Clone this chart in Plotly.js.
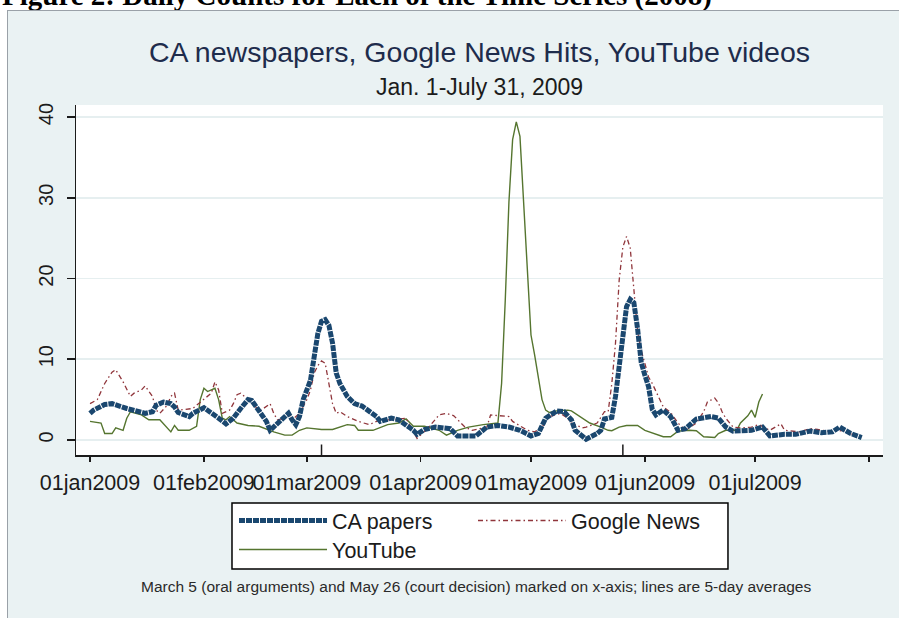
<!DOCTYPE html>
<html>
<head>
<meta charset="utf-8">
<script src="https://cdn.plot.ly/plotly-3.0.1.min.js"></script>
<style>
  html, body { margin: 0; padding: 0; background: #ffffff; width: 899px; height: 618px; overflow: hidden; position: relative; }
  #caption { position: absolute; left: 2px; top: -19px; font: bold 29px "Liberation Serif", "Times New Roman", serif; line-height: 29px; color: #000; white-space: nowrap; }
  #frame { position: absolute; left: 7px; top: 10px; width: 893px; height: 610px; border-left: 2px solid #9aa1a8; border-top: 2px solid #9aa1a8; background: #eaf2f3; }
  #chart { position: absolute; left: 8px; top: 11px; width: 891px; height: 607px; }
</style>
</head>
<body>
<div id="caption">Figure 2: Daily Counts for Each of the Time Series (2008)</div>
<div id="frame"></div>
<div id="chart"></div>
<script>
// ---- data (day offsets from 01jan2009, 5-day averages) ----
var caDay = [0,1,4,6,10,13,15,17,18,20,22,23,24,27,28,31,33,35,37,39,41,43,44,46,48,49,51,53,54,55,56,57,58,60,61,62,63,64,65,66,67,68,70,72,74,75,78,79,82,84,86,88,89,91,94,98,100,103,105,108,111,114,117,120,122,124,127,129,131,132,135,138,139,140,142,143,144,145,146,147,148,149,150,151,152,153,154,156,158,160,162,165,169,171,173,175,180,183,185,189,192,196,199,202,204,207,210];
var caVal = [3.3,3.7,4.4,4.5,3.9,3.5,3.3,3.5,4.3,4.7,4.5,4.1,3.4,2.9,3.3,4.0,3.4,2.7,2.0,2.7,3.9,5.0,4.9,3.7,2.3,1.2,2.0,2.7,3.3,2.5,1.9,2.9,5.0,7.4,10.3,13.2,14.7,14.9,14.2,12.0,8.3,7.0,5.4,4.5,4.2,3.9,2.9,2.3,2.7,2.5,1.9,1.2,0.7,1.3,1.6,1.4,0.5,0.5,0.5,1.6,1.8,1.6,1.2,0.5,0.8,2.7,3.6,3.5,2.5,1.2,0.1,0.8,1.2,2.6,2.8,5.4,9.5,12.8,16.5,17.4,17.0,13.8,9.6,8.0,6.6,3.8,3.1,3.7,2.9,1.2,1.4,2.6,2.9,2.7,1.6,1.1,1.2,1.6,0.5,0.7,0.7,1.1,0.9,1.0,1.6,0.8,0.3];

var gnDay = [0,2,4,6,7,8,9,11,12,14,15,17,18,19,21,22,23,24,28,29,32,33,34,35,36,38,39,40,41,43,44,46,49,50,51,53,54,55,57,59,60,61,62,63,64,65,66,67,68,70,73,76,79,82,86,89,92,95,97,99,102,104,108,109,111,114,115,119,121,123,125,128,130,131,134,135,138,140,141,142,143,144,145,146,147,148,149,150,152,153,156,158,160,162,165,167,168,170,171,172,173,175,177,180,182,185,188,189,193,196,198,202,205,208,210];
var gnVal = [4.5,5.0,7.0,8.4,8.7,8.0,7.2,5.4,5.8,6.2,6.7,5.4,3.7,3.3,4.3,5.4,5.8,3.7,3.9,4.3,5.4,5.8,7.2,6.2,3.3,3.7,4.5,5.6,5.8,5.0,4.8,3.5,4.5,3.3,2.5,2.7,3.3,2.5,3.3,5.0,6.2,8.3,9.2,9.8,9.5,7.0,4.5,3.3,3.5,2.9,2.3,1.9,2.5,2.5,2.7,0.2,1.5,3.1,3.3,3.0,1.6,1.2,1.6,3.1,3.0,2.9,2.3,1.2,1.0,1.6,2.9,3.3,2.7,2.1,1.5,1.6,2.1,3.5,3.5,7.0,12.0,19.8,23.9,25.2,23.8,18.6,13.5,11.1,7.8,7.0,4.1,3.4,2.1,1.2,2.1,3.5,4.7,5.2,4.6,3.5,2.7,1.6,1.5,1.6,1.9,1.2,2.0,1.2,1.0,1.4,1.3,1.0,1.2,0.6,0.3];

var ytDay = [0,3,4,6,7,9,10,11,14,16,19,22,23,24,27,29,30,31,32,34,35,36,37,38,40,43,46,50,53,55,57,59,63,66,70,72,73,77,81,84,86,88,91,95,97,100,103,107,111,112,113,114,115,116,117,118,119,120,121,122,123,124,125,127,130,131,134,136,139,141,142,144,146,149,151,153,156,158,160,163,165,167,170,171,173,176,177,179,180,181,182,183];
var ytVal = [2.3,2.1,0.8,0.8,1.5,1.2,2.7,3.5,3.1,2.5,2.5,1.0,1.8,1.2,1.2,1.7,5.0,6.4,6.0,6.4,5.0,2.7,2.5,2.9,2.1,1.8,1.7,1.0,0.6,0.6,1.2,1.5,1.3,1.3,1.9,1.8,1.2,1.2,1.9,2.1,2.6,1.7,1.7,1.2,0.6,1.2,1.6,1.9,2.1,7.0,17.3,29.5,37.2,39.4,37.6,29.5,20.2,13.0,10.5,7.5,5.0,3.7,3.4,3.6,3.7,3.6,2.7,2.1,1.6,1.2,1.15,1.6,1.8,1.8,1.2,0.9,0.4,0.4,1.1,1.2,1.15,0.4,0.3,0.8,1.2,1.2,2.1,3.0,3.7,2.8,4.7,5.7];

var monthTicks = ['2009-01-01','2009-02-01','2009-03-01','2009-04-01','2009-05-01','2009-06-01','2009-07-01','2009-08-01'];
var monthLabels = ['01jan2009','01feb2009','01mar2009','01apr2009','01may2009','01jun2009','01jul2009',''];
var markedDates = ['2009-03-05','2009-05-26'];
var seriesNames = ['CA papers','Google News','YouTube'];

function toDate(d) {
  return new Date(Date.UTC(2009, 0, 1 + d)).toISOString().slice(0, 10);
}

var FONT = '"Liberation Sans", Arial, sans-serif';
var DARK = '#1b1b1b';

var caTrace = { x: caDay.map(toDate), y: caVal, name: seriesNames[0], type: 'scatter', mode: 'lines',
  legend: 'legend', legendrank: 1,
  line: { color: '#1a476f', width: 5, dash: '6px,1px' } };
var gnTrace = { x: gnDay.map(toDate), y: gnVal, name: seriesNames[1], type: 'scatter', mode: 'lines',
  legend: 'legend', legendrank: 2,
  line: { color: '#90353b', width: 1.3, dash: '5px,3px,1.5px,3px' } };
var ytTrace = { x: ytDay.map(toDate), y: ytVal, name: seriesNames[2], type: 'scatter', mode: 'lines',
  legend: 'legend2', legendrank: 3,
  line: { color: '#55752f', width: 1.4 } };

// draw CA papers on top
var traces = [ytTrace, gnTrace, caTrace];

var shapes = markedDates.map(function (d) {
  return { type: 'line', xref: 'x', yref: 'paper', x0: d, x1: d, y0: 0, y1: 0.03,
           line: { color: DARK, width: 1.5 } };
});
// legend box (frames both legend rows)
shapes.push({ type: 'rect', xref: 'paper', yref: 'paper', x0: 0.1933, x1: 0.8079, y0: -0.3257, y1: -0.1371,
  fillcolor: '#ffffff', line: { color: '#000000', width: 1.5 }, layer: 'below' });

var legendCommon = {
  orientation: 'h', xanchor: 'left', xref: 'paper', yanchor: 'top', yref: 'paper',
  bgcolor: 'rgba(0,0,0,0)', borderwidth: 0,
  font: { family: FONT, size: 21.5, color: DARK },
  itemwidth: 88, entrywidth: 136, entrywidthmode: 'pixels', traceorder: 'normal'
};

var layout = {
  width: 891, height: 607,
  margin: { l: 68, r: 16, t: 94, b: 163, autoexpand: false },
  paper_bgcolor: '#eaf2f3',
  plot_bgcolor: '#ffffff',
  font: { family: FONT, color: DARK },
  showlegend: true,
  title: {
    text: 'CA newspapers, Google News Hits, YouTube videos',
    font: { family: FONT, size: 28.5, color: '#1e2c4c' },
    x: 0.5, xref: 'paper', xanchor: 'center',
    y: 0.9325, yref: 'container', yanchor: 'middle'
  },
  annotations: [
    { text: 'Jan. 1-July 31, 2009', xref: 'paper', yref: 'paper', x: 0.5, y: 1.0514,
      xanchor: 'center', yanchor: 'middle', showarrow: false,
      font: { family: FONT, size: 23, color: '#1b1b1b' } },
    { text: 'March 5 (oral arguments) and May 26 (court decision) marked on x-axis; lines are 5-day averages',
      xref: 'paper', yref: 'paper', x: 0.4957, y: -0.377, xanchor: 'center', yanchor: 'middle',
      showarrow: false, font: { family: FONT, size: 15.5, color: '#2a2a2a' } }
  ],
  xaxis: {
    type: 'date',
    range: ['2008-12-28 04:30', '2009-08-04 19:00'],
    tickmode: 'array', tickvals: monthTicks, ticktext: monthLabels,
    ticks: 'outside', ticklen: 5, tickwidth: 1.5, tickcolor: DARK,
    ticklabelstandoff: 3,
    showline: true, linecolor: DARK, linewidth: 1.5,
    showgrid: false, zeroline: false,
    tickfont: { family: FONT, size: 21.5, color: DARK },
    tickangle: 0, fixedrange: true
  },
  yaxis: {
    range: [-1.86, 41.49],
    tickmode: 'array', tickvals: [0, 10, 20, 30, 40],
    ticks: 'outside', ticklen: 8, tickwidth: 1.5, tickcolor: DARK,
    ticklabelstandoff: 6,
    tickangle: -90,
    showline: true, linecolor: DARK, linewidth: 1.5,
    showgrid: true, gridcolor: '#e6eff0', gridwidth: 1.5,
    zeroline: false,
    tickfont: { family: FONT, size: 20, color: DARK },
    fixedrange: true
  },
  legend: Object.assign({}, legendCommon, { x: 0.1958, y: -0.1286 }),
  legend2: Object.assign({}, legendCommon, { x: 0.1958, y: -0.2114 }),
  shapes: shapes
};

Plotly.newPlot('chart', traces, layout, { displayModeBar: false, staticPlot: true });
</script>
</body>
</html>
